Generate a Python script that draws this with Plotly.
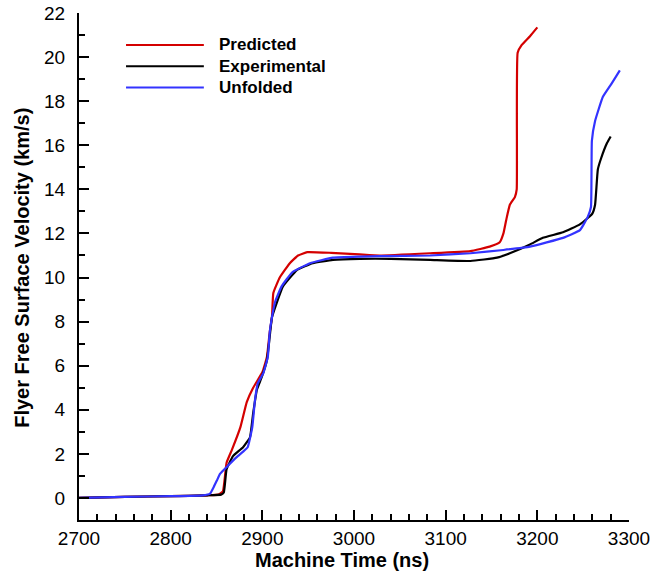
import plotly.graph_objects as go

# ---- data ----
pred_t = [2700, 2750, 2800, 2840, 2852, 2857, 2861, 2867, 2876, 2883, 2890, 2900, 2905, 2908,
          2910.5, 2912, 2919, 2930, 2939, 2949, 2975, 3006, 3028, 3083, 3127, 3148, 3159, 3163,
          3166, 3170, 3175.5, 3177.5, 3178.5, 3183, 3192, 3200]
pred_v = [0.0, 0.05, 0.08, 0.12, 0.15, 0.3, 1.6, 2.2, 3.2, 4.35, 5.0, 5.7, 6.4, 7.5,
          8.2, 9.3, 10.0, 10.65, 11.0, 11.15, 11.12, 11.05, 11.0, 11.1, 11.2, 11.4, 11.6, 12.0,
          12.6, 13.3, 13.65, 14.0, 20.2, 20.55, 20.95, 21.35]

exp_t = [2700, 2750, 2800, 2840, 2855, 2858, 2861, 2868, 2879, 2886.5, 2890, 2894, 2899.5, 2905,
         2908, 2910.5, 2914, 2922.5, 2938, 2955, 2977, 3006, 3040, 3083, 3127, 3156, 3170, 3192,
         3206, 3228, 3246, 3255, 3260, 3263, 3266, 3269.5, 3276, 3280]
exp_v = [0.0, 0.05, 0.08, 0.12, 0.15, 0.25, 1.3, 1.9, 2.3, 2.75, 3.85, 4.9, 5.5, 6.25,
         7.3, 8.2, 8.65, 9.6, 10.35, 10.65, 10.8, 10.85, 10.85, 10.8, 10.75, 10.9, 11.1, 11.5,
         11.8, 12.05, 12.4, 12.7, 12.9, 13.3, 14.9, 15.4, 16.1, 16.4]

unf_t = [2700, 2750, 2800, 2835, 2843, 2847, 2850.5, 2854, 2861, 2872, 2879, 2884, 2889, 2892,
         2895, 2901, 2906, 2908, 2910.5, 2914, 2921, 2933, 2952, 2977, 3006, 3028, 3083, 3127,
         3163, 3192, 3228, 3246.5, 3255, 3258.5, 3259.5, 3263, 3271.5, 3281, 3290]
unf_v = [0.0, 0.05, 0.08, 0.12, 0.2, 0.5, 0.8, 1.1, 1.4, 1.85, 2.1, 2.3, 3.2, 4.45,
         5.2, 5.65, 6.4, 7.5, 8.2, 8.9, 9.6, 10.25, 10.65, 10.9, 10.95, 10.97, 11.0, 11.1,
         11.25, 11.4, 11.8, 12.15, 12.75, 13.2, 16.2, 17.1, 18.2, 18.8, 19.4]

series_names = ["Predicted", "Experimental", "Unfolded"]
series_colors = ["#d40000", "#000000", "#3333ff"]

x_ticks = [2700, 2800, 2900, 3000, 3100, 3200, 3300]
y_ticks = [0, 2, 4, 6, 8, 10, 12, 14, 16, 18, 20, 22]

FONT = "Liberation Sans, Arial, Helvetica, sans-serif"

fig = go.Figure()
for (t, v), name, col in zip([(pred_t, pred_v), (exp_t, exp_v), (unf_t, unf_v)],
                             series_names, series_colors):
    fig.add_trace(go.Scatter(x=t, y=v, mode="lines", name=name,
                             line=dict(color=col, width=2.2, shape="spline", smoothing=0.35),
                             showlegend=False))

# custom legend (Tecplot style)
leg_y = [0.937, 0.895, 0.853]
shapes = []
annotations = []
for name, col, yy in zip(series_names, series_colors, leg_y):
    shapes.append(dict(type="line", xref="paper", yref="paper", x0=0.0855, x1=0.227,
                       y0=yy, y1=yy, line=dict(color=col, width=2)))
    annotations.append(dict(xref="paper", yref="paper", x=0.25, y=yy, text="<b>%s</b>" % name,
                            showarrow=False, xanchor="left", yanchor="middle",
                            font=dict(family=FONT, size=17, color="black")))

annotations.append(dict(xref="paper", yref="paper", x=0.478, y=-0.079,
                        text="<b>Machine Time (ns)</b>", showarrow=False,
                        xanchor="center", yanchor="middle",
                        font=dict(family=FONT, size=20, color="black")))
annotations.append(dict(xref="paper", yref="paper", x=-0.104, y=0.497,
                        text="<b>Flyer Free Surface Velocity (km/s)</b>", showarrow=False,
                        textangle=-90, xanchor="center", yanchor="middle",
                        font=dict(family=FONT, size=20, color="black")))

axis_common = dict(showline=True, linecolor="black", linewidth=2, showgrid=False,
                   zeroline=False, ticks="inside", ticklen=10, tickwidth=2, tickcolor="black",
                   tickfont=dict(family=FONT, size=19, color="black"), mirror=False,
                   automargin=False)

fig.update_layout(
    width=666, height=573,
    margin=dict(l=79, r=37, t=13, b=53),
    paper_bgcolor="white", plot_bgcolor="white",
    xaxis=dict(range=[2700, 3300], tickvals=x_ticks, ticktext=[str(v) for v in x_ticks],
               minor=dict(ticks="inside", dtick=20, ticklen=6, tickwidth=1.5, tickcolor="black",
                          showgrid=False),
               ticklabelstandoff=0,
               **axis_common),
    yaxis=dict(range=[-1, 22], tickvals=y_ticks, ticktext=[str(v) for v in y_ticks],
               minor=dict(ticks="inside", dtick=1, tick0=0, ticklen=6, tickwidth=1.5,
                          tickcolor="black", showgrid=False),
               ticklabelstandoff=8,
               **axis_common),
    shapes=shapes, annotations=annotations,
)

fig.write_html("out.html")
